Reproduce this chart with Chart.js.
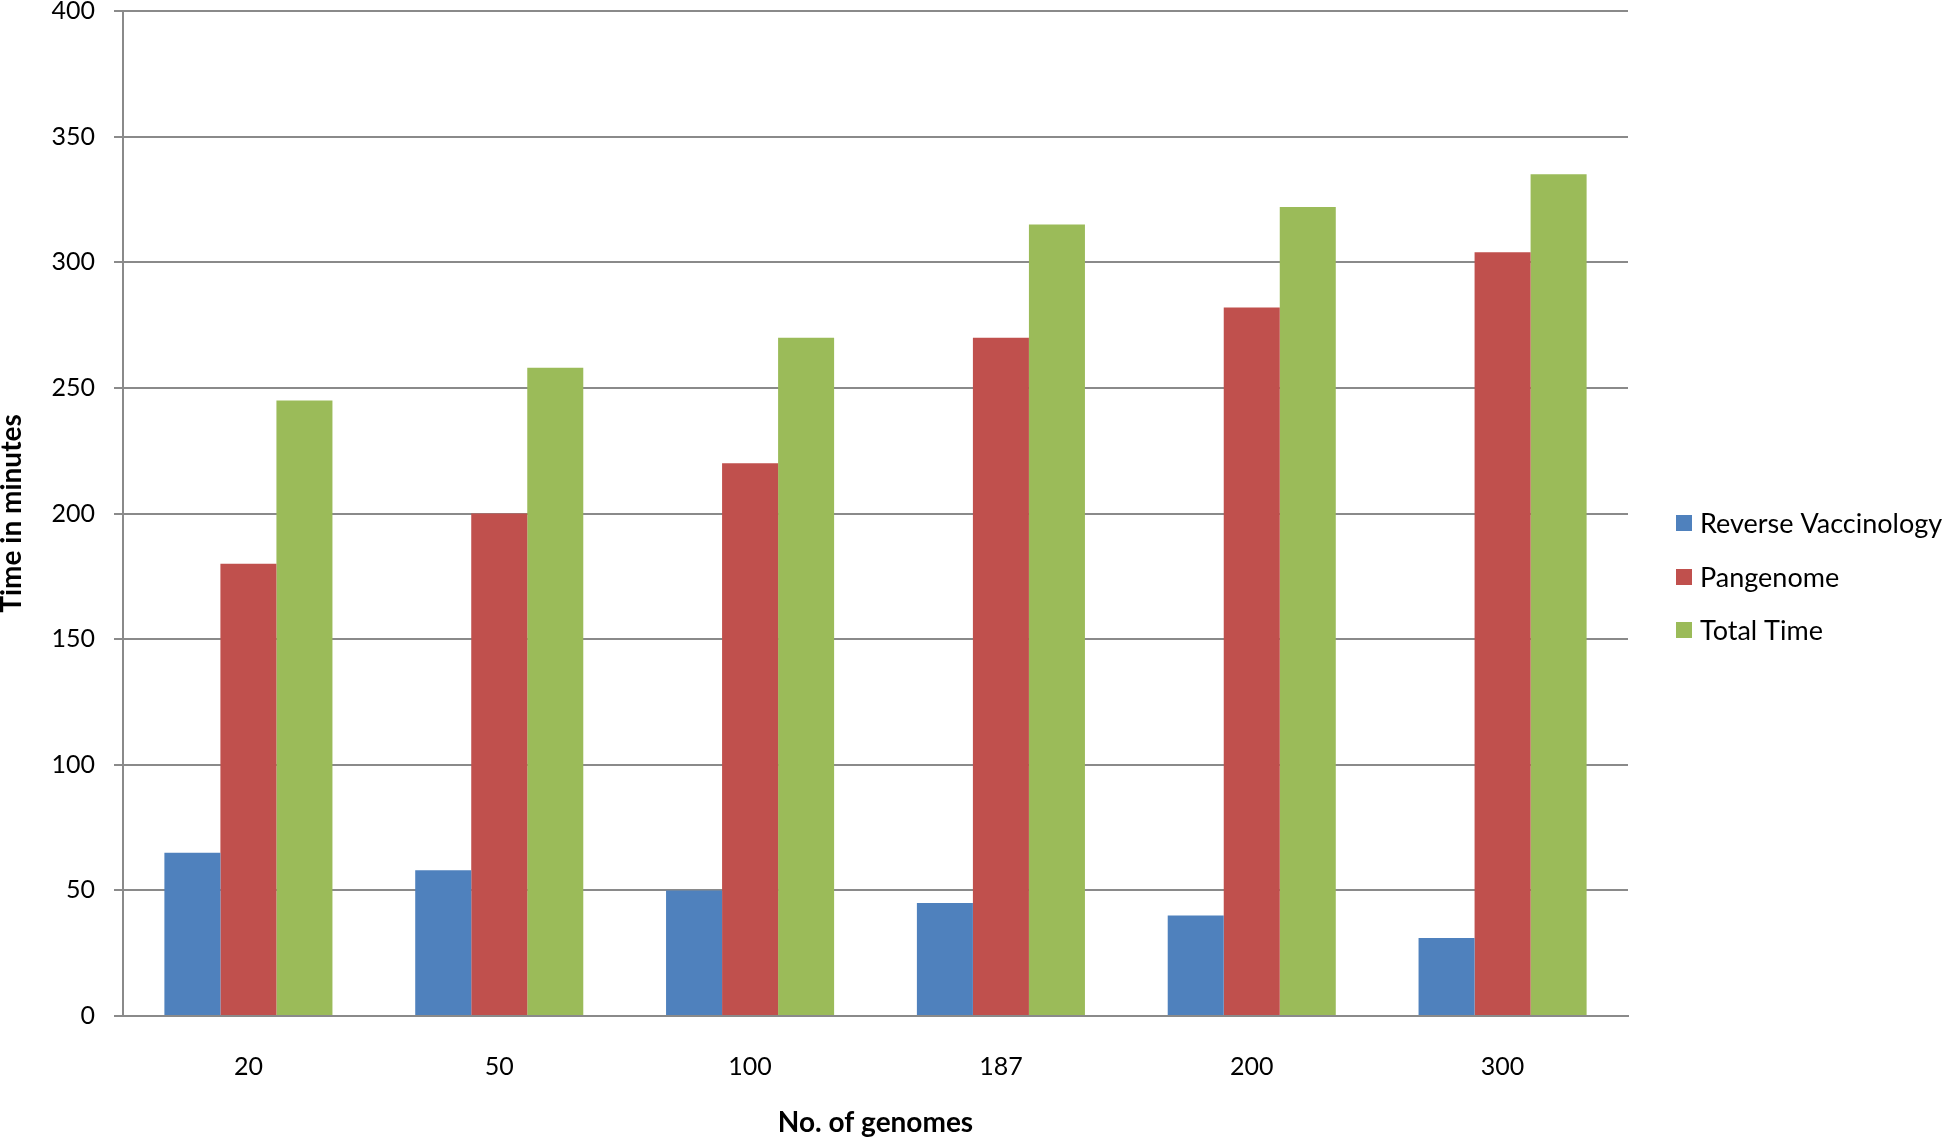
<!DOCTYPE html>
<html>
<head>
<meta charset="utf-8">
<style>
  html, body { margin: 0; padding: 0; background: #fff; }
  #wrap { width: 1946px; height: 1137px; position: relative; }
</style>
<script src="https://cdn.jsdelivr.net/npm/chart.js@4.4.1/dist/chart.umd.min.js"></script>
</head>
<body>
<div id="wrap"><canvas id="c" width="1946" height="1137"></canvas></div>
<script>
const categories = ['20', '50', '100', '187', '200', '300'];
const reverseVaccinology = [65, 58, 50, 45, 40, 31];
const pangenome = [180, 200, 220, 270, 282, 304];
const totalTime = [245, 258, 270, 315, 322, 335];
const seriesNames = ['Reverse Vaccinology', 'Pangenome', 'Total Time'];
const yTicks = [0, 50, 100, 150, 200, 250, 300, 350, 400];
const xTitle = 'No. of genomes';
const yTitle = 'Time in minutes';

const colors = ['#4F81BD', '#C0504D', '#9BBB59'];
const FONT = 'Lato';
const gridColor = '#8a8a8a';

const legendPlugin = {
  id: 'sideLegend',
  afterDraw(chart) {
    const ctx = chart.ctx;
    const ys = [523, 577, 630];
    ctx.save();
    ctx.font = '27px ' + FONT;
    ctx.textBaseline = 'middle';
    ctx.textAlign = 'left';
    chart.data.datasets.forEach((ds, i) => {
      ctx.fillStyle = ds.backgroundColor;
      ctx.fillRect(1676, ys[i] - 8, 16, 16);
      ctx.fillStyle = '#000';
      ctx.fillText(ds.label, 1700, ys[i] + 1);
    });
    ctx.restore();
  }
};

new Chart(document.getElementById('c'), {
  type: 'bar',
  data: {
    labels: categories,
    datasets: [
      { label: seriesNames[0], data: reverseVaccinology, backgroundColor: colors[0] },
      { label: seriesNames[1], data: pangenome, backgroundColor: colors[1] },
      { label: seriesNames[2], data: totalTime, backgroundColor: colors[2] }
    ]
  },
  options: {
    responsive: false,
    animation: false,
    devicePixelRatio: 1,
    layout: { padding: { left: 0, right: 318, top: 11, bottom: 0 } },
    datasets: { bar: { categoryPercentage: 0.67, barPercentage: 1.0, borderWidth: 0 } },
    plugins: {
      legend: { display: false },
      tooltip: { enabled: false },
      title: { display: false }
    },
    scales: {
      x: {
        grid: { display: false },
        border: { display: true, color: gridColor, width: 2 },
        ticks: { color: '#000', font: { family: FONT, size: 25 }, padding: 28 },
        title: {
          display: true, text: xTitle, color: '#000',
          font: { family: FONT, size: 28, weight: 'bold' },
          padding: { top: 0, bottom: -3 }
        },
        afterFit(scale) { scale.height = 121; scale.paddingLeft = 0; scale.paddingRight = 0; }
      },
      y: {
        min: 0, max: 400,
        afterBuildTicks(scale) { scale.ticks = yTicks.map(v => ({ value: v })); },
        grid: { color: gridColor, lineWidth: 2, tickLength: 9, drawTicks: true },
        border: { display: true, color: gridColor, width: 2 },
        ticks: { color: '#000', font: { family: FONT, size: 25 }, padding: 19 },
        title: {
          display: true, text: yTitle, color: '#000',
          font: { family: FONT, size: 28, weight: 'bold' },
          padding: { top: -5, bottom: 0 }
        },
        afterFit(scale) { scale.width = 123; scale.paddingTop = 0; scale.paddingBottom = 0; }
      }
    }
  },
  plugins: [legendPlugin]
});
</script>
</body>
</html>
